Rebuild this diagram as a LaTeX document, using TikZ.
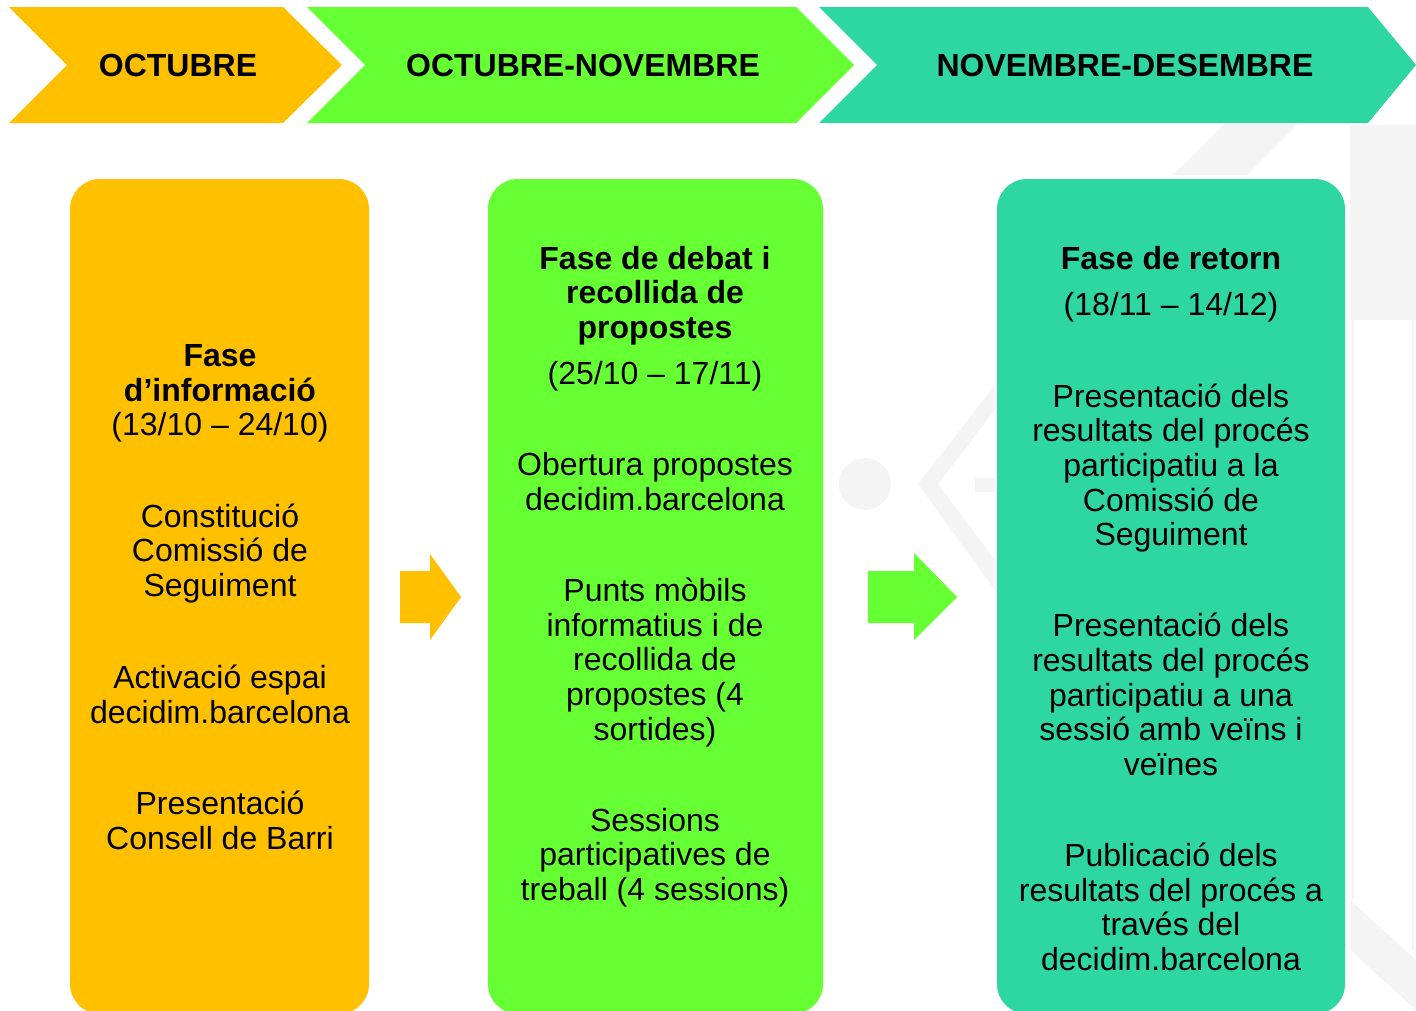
\documentclass[tikz,border=0pt]{standalone}
\usepackage{fontspec}
\setmainfont{Liberation Sans}
\definecolor{cyel}{HTML}{FFC000}
\definecolor{cgrn}{HTML}{66FF33}
\definecolor{cteal}{HTML}{2ED6A1}
\definecolor{wm}{HTML}{F4F4F4}
\tikzset{
  txt/.style={align=center, inner sep=0pt, font=\fontsize{32}{34.7}\selectfont},
  head/.style={inner sep=0pt, font=\fontsize{32}{34.7}\selectfont\bfseries},
  panel/.style={rounded corners=30pt},
}
\begin{document}
\begin{tikzpicture}[x=1pt,y=-1pt]
\useasboundingbox (0,0) rectangle (1416,1010);
\clip (0,0) rectangle (1416,1010);
% watermark
\fill[wm] (1350,125) rectangle (1416,320);
\draw[wm, line width=2pt] (1353,320) -- (1353,900);
\draw[wm, line width=2pt] (1413,320) -- (1413,950);
\fill[wm] (1350,900) -- (1416,960) -- (1416,1010) -- (1350,950) -- cycle;
\fill[wm] (1173,175) -- (1247,175) -- (1300,122) -- (1226,122) -- cycle;
\fill[wm] (865,484) circle (26);
\fill[wm] (918,484) -- (995,385) -- (995,410) -- (938,484) -- (995,560) -- (995,590) -- cycle;
\fill[wm] (975,478) rectangle (995,492);
% chevrons
\fill[cyel] (9,7) -- (283,7) -- (342,65) -- (283,123) -- (9,123) -- (67,65) -- cycle;
\fill[cgrn] (307,7) -- (796,7) -- (854,65) -- (796,123) -- (307,123) -- (365,65) -- cycle;
\fill[cteal] (819,7) -- (1368,7) -- (1416,65) -- (1368,123) -- (819,123) -- (877,65) -- cycle;
\node[head] (h1) at (178,65) {OCTUBRE};
\node[head] (h2) at (583,65) {OCTUBRE-NOVEMBRE};
\node[head] (h3) at (1125,65) {NOVEMBRE-DESEMBRE};
% panels
\fill[cyel, panel] (70,179) rectangle (369,1014);
\fill[cgrn, panel] (488,179) rectangle (823,1014);
\fill[cteal, panel] (997,179) rectangle (1345,1014);
% arrows
\fill[cyel] (400,571) -- (430,571) -- (430,554) -- (461,597) -- (430,640) -- (430,623) -- (400,623) -- cycle;
\fill[cgrn] (868,571) -- (914,571) -- (914,553) -- (957,597) -- (914,640) -- (914,623) -- (868,623) -- cycle;
% yellow texts
\node[txt] (y1) at (220,393.5) {\textbf{Fase}\\\textbf{d’informació}\\(13/10 – 24/10)};
\node[txt] (y2) at (220,553.5) {Constitució\\Comissió de\\Seguiment};
\node[txt] (y3) at (220,694.5) {Activació espai\\decidim.barcelona};
\node[txt] (y4) at (220,820.5) {Presentació\\Consell de Barri};
% green texts
\node[txt, font=\fontsize{32}{34.7}\selectfont\bfseries] (g1) at (655,295.5) {Fase de debat i\\recollida de\\propostes};
\node[txt] (g2) at (655,376) {(25/10 – 17/11)};
\node[txt] (g3) at (655,481.5) {Obertura propostes\\decidim.barcelona};
\node[txt] (g4) at (655,662.5) {Punts mòbils\\informatius i de\\recollida de\\propostes (4\\sortides)};
\node[txt] (g5) at (655,857.5) {Sessions\\participatives de\\treball (4 sessions)};
% teal texts
\node[txt, font=\fontsize{32}{34.7}\selectfont\bfseries] (t1) at (1171,258) {Fase de retorn};
\node[txt] (t2) at (1171,307) {(18/11 – 14/12)};
\node[txt] (t3) at (1171,468) {Presentació dels\\resultats del procés\\participatiu a la\\Comissió de\\Seguiment};
\node[txt] (t4) at (1171,694.5) {Presentació dels\\resultats del procés\\participatiu a una\\sessió amb veïns i\\veïnes};
\node[txt] (t5) at (1171,907) {Publicació dels\\resultats del procés a\\través del\\decidim.barcelona};
\end{tikzpicture}
\end{document}
